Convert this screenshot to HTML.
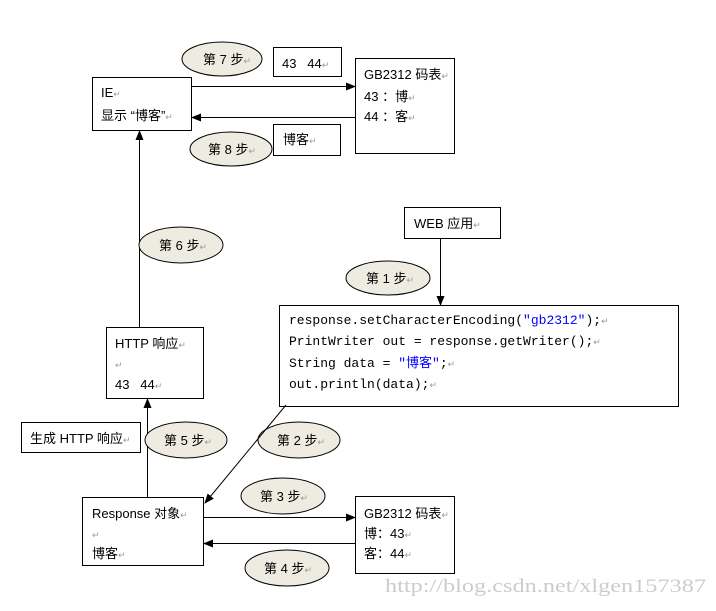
<!DOCTYPE html>
<html><head><meta charset="utf-8"><style>
body{margin:0;background:#fff;}
svg text{font-family:"Liberation Sans","Noto Sans CJK SC",sans-serif;font-size:13px;fill:#000;white-space:pre;}
.m{font-family:"Liberation Mono","Noto Sans CJK SC",monospace;font-size:13px;}
.r{fill:none;stroke:#000;stroke-width:1;}
.e{fill:#eeece1;stroke:#000;stroke-width:1;}
.p{fill:#999;font-size:9px;}
</style></head><body>
<svg width="716" height="606" xmlns="http://www.w3.org/2000/svg" xml:space="preserve">
<defs><marker id="a" markerWidth="10" markerHeight="10" refX="9" refY="5" orient="auto" markerUnits="userSpaceOnUse"><path d="M0,1 L10,5 L0,9z" fill="#000"/></marker></defs>
<rect class="r" x="92.5" y="77.5" width="99" height="53"/>
<text x="101" y="97">IE<tspan class="p">↵</tspan></text>
<text x="101" y="120">显示 “博客”<tspan class="p">↵</tspan></text>
<ellipse class="e" cx="222" cy="59" rx="40" ry="17"/>
<text x="203" y="64">第 7 步<tspan class="p">↵</tspan></text>
<rect class="r" x="273.5" y="47.5" width="68" height="29"/>
<text x="282" y="68">43   44<tspan class="p">↵</tspan></text>
<rect class="r" x="355.5" y="58.5" width="99" height="95"/>
<text x="364" y="79">GB2312 码表<tspan class="p">↵</tspan></text>
<text x="364" y="101">43 ：博<tspan class="p">↵</tspan></text>
<text x="364" y="121">44 ：客<tspan class="p">↵</tspan></text>
<line x1="191" y1="86.5" x2="355" y2="86.5" stroke="#000" marker-end="url(#a)"/>
<line x1="355" y1="117.5" x2="192" y2="117.5" stroke="#000" marker-end="url(#a)"/>
<ellipse class="e" cx="231" cy="149" rx="41" ry="17"/>
<text x="208" y="154">第 8 步<tspan class="p">↵</tspan></text>
<rect class="r" x="273.5" y="124.5" width="67" height="31"/>
<text x="283" y="144">博客<tspan class="p">↵</tspan></text>
<line x1="139.5" y1="327" x2="139.5" y2="131" stroke="#000" marker-end="url(#a)"/>
<ellipse class="e" cx="181" cy="245" rx="42" ry="18"/>
<text x="159" y="250">第 6 步<tspan class="p">↵</tspan></text>
<rect class="r" x="404.5" y="207.5" width="96" height="31"/>
<text x="414" y="228">WEB 应用<tspan class="p">↵</tspan></text>
<line x1="440.5" y1="238" x2="440.5" y2="305" stroke="#000" marker-end="url(#a)"/>
<ellipse class="e" cx="388" cy="278" rx="42" ry="17"/>
<text x="366" y="283">第 1 步<tspan class="p">↵</tspan></text>
<rect class="r" x="279.5" y="305.5" width="399" height="101"/>
<text class="m" x="289" y="324">response.setCharacterEncoding(<tspan fill="#00f">"gb2312"</tspan>);<tspan class="p">↵</tspan></text>
<text class="m" x="289" y="345">PrintWriter out = response.getWriter();<tspan class="p">↵</tspan></text>
<text class="m" x="289" y="367">String data = <tspan fill="#00f">"博客"</tspan>;<tspan class="p">↵</tspan></text>
<text class="m" x="289" y="388">out.println(data);<tspan class="p">↵</tspan></text>
<rect class="r" x="106.5" y="327.5" width="97" height="71"/>
<text x="115" y="348">HTTP 响应<tspan class="p">↵</tspan></text>
<text class="p" x="115" y="368">↵</text>
<text x="115" y="389">43   44<tspan class="p">↵</tspan></text>
<line x1="147.5" y1="497" x2="147.5" y2="399" stroke="#000" marker-end="url(#a)"/>
<rect class="r" x="21.5" y="422.5" width="119" height="30"/>
<text x="30" y="443">生成 HTTP 响应<tspan class="p">↵</tspan></text>
<ellipse class="e" cx="186" cy="440" rx="41" ry="18"/>
<text x="164" y="445">第 5 步<tspan class="p">↵</tspan></text>
<ellipse class="e" cx="299" cy="440" rx="41" ry="18"/>
<text x="277" y="445">第 2 步<tspan class="p">↵</tspan></text>
<line x1="286" y1="405" x2="205" y2="503" stroke="#000" marker-end="url(#a)"/>
<ellipse class="e" cx="283" cy="496" rx="42" ry="18"/>
<text x="260" y="501">第 3 步<tspan class="p">↵</tspan></text>
<rect class="r" x="82.5" y="497.5" width="121" height="68"/>
<text x="92" y="518">Response 对象<tspan class="p">↵</tspan></text>
<text class="p" x="92" y="538">↵</text>
<text x="92" y="558">博客<tspan class="p">↵</tspan></text>
<line x1="203" y1="517.5" x2="355" y2="517.5" stroke="#000" marker-end="url(#a)"/>
<line x1="355" y1="543.5" x2="204" y2="543.5" stroke="#000" marker-end="url(#a)"/>
<rect class="r" x="355.5" y="496.5" width="99" height="77"/>
<text x="364" y="518">GB2312 码表<tspan class="p">↵</tspan></text>
<text x="364" y="538">博：43<tspan class="p">↵</tspan></text>
<text x="364" y="558">客：44<tspan class="p">↵</tspan></text>
<ellipse class="e" cx="287" cy="568" rx="42" ry="18"/>
<text x="264" y="573">第 4 步<tspan class="p">↵</tspan></text>
<text x="385" y="592" textLength="321" lengthAdjust="spacingAndGlyphs" style="font-family:'Liberation Serif',serif;font-size:19px;fill:#ccc">http://blog.csdn.net/xlgen157387</text>
</svg>
</body></html>
